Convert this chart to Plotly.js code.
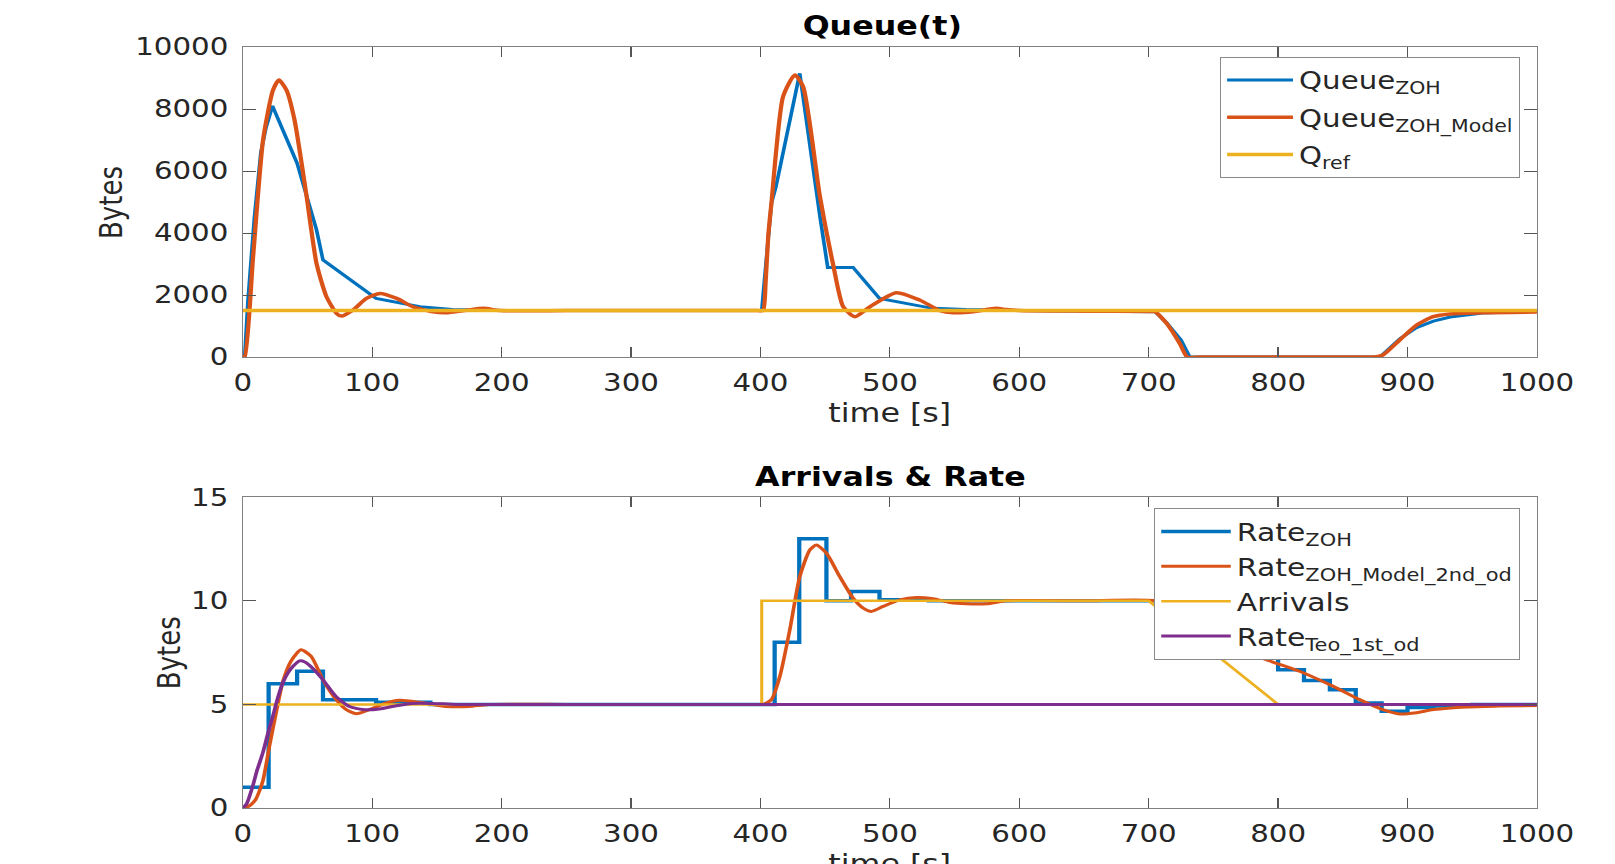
<!DOCTYPE html>
<html>
<head>
<meta charset="utf-8">
<script src="https://cdn.plot.ly/plotly-3.0.1.min.js"></script>
<style>
  html, body { margin: 0; padding: 0; background: #fff; overflow: hidden; }
  #wrap { width: 1615px; height: 864px; overflow: hidden; }
  #plot { width: 1324px; height: 864px; transform: scaleX(1.2198); transform-origin: 0 0; }
</style>
</head>
<body>
<div id="wrap"><div id="plot"></div></div>
<script>
// ---------- Queue(t) ----------
const qZohT = [0, 1.5, 4, 9, 14, 18, 23, 42, 57, 62, 103, 137, 162, 200, 401, 408.5, 412, 430.4, 446, 452, 471.6, 492, 533, 559, 600, 705, 714, 725, 731.8, 878.7, 894, 907, 920, 933, 958, 1000];
const qZohV = [0, 0, 1800, 4500, 6600, 7400, 8100, 6250, 4100, 3130, 1890, 1620, 1530, 1500, 1500, 4960, 5490, 9150, 4530, 2890, 2890, 1890, 1570, 1530, 1500, 1460, 1100, 550, 0, 0, 590, 950, 1160, 1290, 1420, 1480];

const qModT = [0, 1.5, 8, 15.7, 23.4, 28, 33.8, 40, 49, 57, 64.7, 72.4, 76.3, 85, 95.6, 106, 119, 131.6, 147, 157, 173, 186, 199, 250, 300, 350, 398, 402, 404, 406, 408.5, 417.5, 426.6, 433, 446, 456, 464, 473, 484.5, 505, 523, 538.6, 549, 564.5, 582, 590, 600, 650, 700, 704.8, 713.8, 724, 729.8, 740, 800, 865, 873.5, 881, 894, 907, 919.8, 932.7, 958, 1000];
const qModV = [0, 0, 3235, 7000, 8610, 8935, 8610, 7650, 5280, 3020, 1945, 1410, 1320, 1510, 1890, 2050, 1890, 1620, 1460, 1430, 1510, 1570, 1500, 1500, 1500, 1500, 1500, 1500, 2400, 3880, 4960, 8400, 9100, 8720, 5170, 3020, 1620, 1300, 1620, 2075, 1840, 1500, 1430, 1460, 1570, 1530, 1500, 1480, 1470, 1460, 1090, 440, 0, 0, 0, 0, 0, 65, 550, 1030, 1300, 1390, 1430, 1450];

const qRefT = [0, 1000];
const qRefV = [1500, 1500];

// ---------- Arrivals & Rate ----------
const rZohT = [0, 20, 42, 62, 103, 145, 411, 430, 451, 470, 492, 530, 720, 740, 760, 780, 800, 820, 840, 860, 880, 900, 920, 950, 1000];
const rZohV = [1, 6, 6.6, 5.23, 5.1, 5.0, 8, 13, 10, 10.45, 10.05, 10, 9.4, 8.8, 8.2, 7.32, 6.67, 6.16, 5.71, 5.07, 4.67, 4.85, 4.92, 5.0, 5.0];

const rModT = [0, 5, 10, 15.5, 20.6, 25.8, 31, 37.4, 45, 52.9, 62, 72.2, 80, 87.7, 98, 110.9, 121, 136.6, 157, 175, 190, 250, 300, 350, 398, 402, 408.5, 415, 422.7, 430.4, 438.2, 443.3, 451, 461.3, 471.6, 479.4, 485.8, 494.8, 507.7, 520.6, 533.5, 546.4, 559, 575, 590, 650, 705, 720, 740, 760, 781, 817, 842.7, 863, 881, 894, 907, 920, 946, 970, 1000];
const rModV = [0, 0.1, 0.41, 1.3, 2.98, 4.6, 6.1, 7.1, 7.64, 7.32, 6.19, 5.23, 4.75, 4.55, 4.75, 5.07, 5.2, 5.1, 4.9, 4.9, 5.0, 5.0, 5.0, 5.0, 5.0, 5.0, 5.23, 6.35, 8.6, 11.17, 12.46, 12.7, 12.3, 11.17, 10.13, 9.65, 9.49, 9.73, 10.05, 10.16, 10.1, 9.92, 9.86, 9.86, 10, 10, 10, 9.6, 9.0, 8.3, 7.4, 6.59, 5.87, 5.23, 4.75, 4.54, 4.6, 4.75, 4.88, 4.92, 4.95];

const arrT = [0, 401, 401, 700, 800, 1000];
const arrV = [5, 5, 10, 10, 5, 5];

const rTeoT = [0, 3, 7.7, 11, 15.5, 19, 23.2, 27, 30.9, 34.7, 38.7, 44, 48, 54, 62, 72, 82.5, 92.8, 105.7, 118.6, 131, 147, 165, 250, 1000];
const rTeoV = [0, 0.2, 1.05, 1.8, 2.66, 3.5, 4.42, 5.3, 6.03, 6.5, 6.83, 7.1, 7.05, 6.75, 6.19, 5.39, 4.9, 4.75, 4.78, 4.94, 5.05, 5.05, 5.0, 5.0, 5.0];

const xTicks = [0, 100, 200, 300, 400, 500, 600, 700, 800, 900, 1000];
const xTickText = ['0', '100', '200', '300', '400', '500', '600', '700', '800', '900', '1000'];
const y1Ticks = [0, 2000, 4000, 6000, 8000, 10000];
const y1TickText = ['0', '2000', '4000', '6000', '8000', '10000'];
const y2Ticks = [0, 5, 10, 15];
const y2TickText = ['0', '5', '10', '15'];

const C_BLUE = '#0072BD', C_ORANGE = '#D95319', C_YELLOW = '#EDB120', C_PURPLE = '#7E2F8E';
const FONT = 'DejaVu Sans, Verdana, sans-serif';

const traces = [
  {x: qZohT, y: qZohV, xaxis: 'x', yaxis: 'y', mode: 'lines', name: 'Queue<sub>ZOH</sub>', legendgroup: 'a', line: {color: C_BLUE, width: 3}, legend: 'legend'},
  {x: qModT, y: qModV, xaxis: 'x', yaxis: 'y', mode: 'lines', name: 'Queue<sub>ZOH_Model</sub>', legendgroup: 'b', line: {color: C_ORANGE, width: 3.5, shape: 'spline', smoothing: 0.6}, legend: 'legend'},
  {x: qRefT, y: qRefV, xaxis: 'x', yaxis: 'y', mode: 'lines', name: 'Q<sub>ref</sub>', legendgroup: 'c', line: {color: C_YELLOW, width: 3.5}, legend: 'legend'},
  {x: rZohT, y: rZohV, xaxis: 'x2', yaxis: 'y2', mode: 'lines', name: 'Rate<sub>ZOH</sub>', legendgroup: 'd', line: {color: C_BLUE, width: 3.5, shape: 'hv'}, legend: 'legend2'},
  {x: rModT, y: rModV, xaxis: 'x2', yaxis: 'y2', mode: 'lines', name: 'Rate<sub>ZOH_Model_2nd_od</sub>', legendgroup: 'e', line: {color: C_ORANGE, width: 3, shape: 'spline', smoothing: 0.6}, legend: 'legend2'},
  {x: arrT, y: arrV, xaxis: 'x2', yaxis: 'y2', mode: 'lines', name: 'Arrivals', legendgroup: 'f', line: {color: C_YELLOW, width: 2.5}, legend: 'legend2'},
  {x: rTeoT, y: rTeoV, xaxis: 'x2', yaxis: 'y2', mode: 'lines', name: 'Rate<sub>Teo_1st_od</sub>', legendgroup: 'g', line: {color: C_PURPLE, width: 3, shape: 'spline', smoothing: 0.6}, legend: 'legend2'}
];

function xax(anchor) {
  return {
    anchor: anchor, domain: [0, 1], range: [0, 1000], tickmode: 'array', tickvals: xTicks, ticktext: xTickText,
    ticks: 'inside', ticklen: 10, tickwidth: 1, tickcolor: '#555',
    showline: true, linecolor: '#808080', linewidth: 1, mirror: 'ticks',
    showgrid: false, zeroline: false, ticklabelstandoff: 4,
    tickfont: {family: FONT, size: 24, color: '#262626'}
  };
}
function yax(anchor, domain, range, ticks, text) {
  return {
    anchor: anchor, domain: domain, range: range, tickmode: 'array', tickvals: ticks, ticktext: text,
    ticks: 'inside', ticklen: 11, tickwidth: 1, tickcolor: '#555',
    showline: true, linecolor: '#808080', linewidth: 1, mirror: 'ticks',
    showgrid: false, zeroline: false, ticklabelstandoff: 6,
    tickfont: {family: FONT, size: 24, color: '#262626'}
  };
}

const legendBase = {
  bgcolor: '#ffffff', bordercolor: '#8a8a8a', borderwidth: 1,
  font: {family: FONT, size: 24, color: '#262626'},
  xanchor: 'right', yanchor: 'top', itemwidth: 54, traceorder: 'grouped'
};

const ann = (text, x, y, size, extra) => Object.assign({
  text: text, x: x, y: y, xref: 'paper', yref: 'paper', showarrow: false,
  xanchor: 'center', yanchor: 'middle',
  font: {family: FONT, size: size, color: '#262626'}
}, extra || {});

const layout = {
  width: 1324, height: 864,
  margin: {l: 199, r: 64, t: 47, b: 56},
  paper_bgcolor: '#ffffff', plot_bgcolor: '#ffffff',
  showlegend: true,
  xaxis: xax('y'),
  yaxis: yax('x', [0.5926, 1], [0, 10000], y1Ticks, y1TickText),
  xaxis2: xax('y2'),
  yaxis2: yax('x2', [0, 0.4083], [0, 15], y2Ticks, y2TickText),
  legend: Object.assign({}, legendBase, {x: 0.9868, y: 0.9869, tracegroupgap: 3}),
  legend2: Object.assign({}, legendBase, {x: 0.9868, y: 0.3942, tracegroupgap: 0, itemwidth: 57, font: {family: FONT, size: 24.5, color: '#262626'}}),
  annotations: [
    ann('<b>Queue(t)</b>', 0.494, 1.0276, 26, {font: {family: FONT, size: 26, color: '#000'}}),
    ann('<b>Arrivals &amp; Rate</b>', 0.5, 0.435, 26, {font: {family: FONT, size: 26, color: '#000'}}),
    ann('Bytes', -0.1018, 0.7963, 26, {textangle: -90}),
    ann('Bytes', -0.0570, 0.2041, 26, {textangle: -90}),
    ann('time [s]', 0.5, 0.519, 26),
    ann('time [s]', 0.5, -0.074, 26)
  ]
};

Plotly.newPlot('plot', traces, layout, {displayModeBar: false, staticPlot: true});
</script>
</body>
</html>
